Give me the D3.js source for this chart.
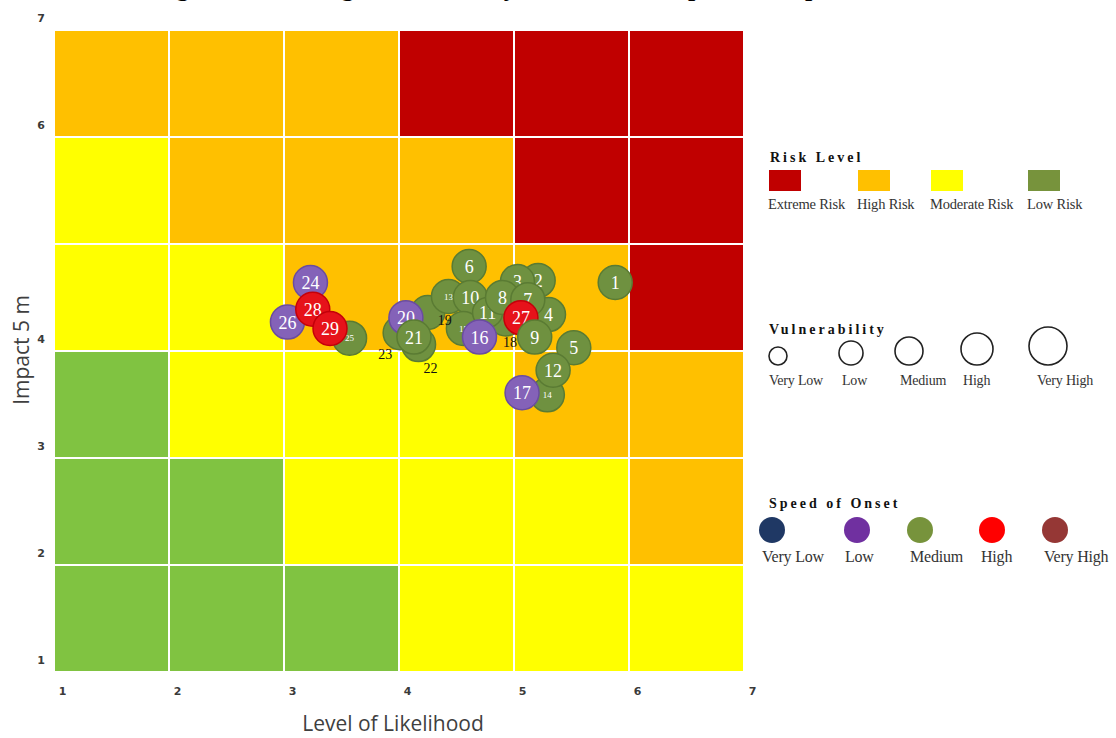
<!DOCTYPE html>
<html>
<head>
<meta charset="utf-8">
<script src="https://cdn.jsdelivr.net/npm/d3@7"></script>
<style>
  body { margin: 0; background: #fff; }
  svg { display: block; }
</style>
</head>
<body>
<svg id="drawing_region"></svg>
<script>
// risk grid, rows from top (impact 6-7) down to bottom (impact 1-2), columns likelihood 1-2 .. 6-7
const riskGrid = [
    ['High', 'High', 'High', 'Extreme', 'Extreme', 'Extreme'],
    ['Moderate', 'High', 'High', 'High', 'Extreme', 'Extreme'],
    ['Moderate', 'Moderate', 'High', 'High', 'High', 'Extreme'],
    ['Low', 'Moderate', 'Moderate', 'Moderate', 'High', 'High'],
    ['Low', 'Low', 'Moderate', 'Moderate', 'Moderate', 'High'],
    ['Low', 'Low', 'Low', 'Moderate', 'Moderate', 'Moderate']
];
const riskLevels = ['Extreme', 'High', 'Moderate', 'Low'];
const riskLabels = ['Extreme Risk', 'High Risk', 'Moderate Risk', 'Low Risk'];

const xTicks = [1, 2, 3, 4, 5, 6, 7];
const yTicks = [1, 2, 3, 4, 6, 7];

const vulnerabilityLevels = ['Very Low', 'Low', 'Medium', 'High', 'Very High'];
const onsetLevels = ['Very Low', 'Low', 'Medium', 'High', 'Very High'];

// hazards, in drawing order
const hazardIds    = [25, 24, 26, 28, 29, 23, 19, 22, 20, 21, 13, 6, 18, 2, 3, 10, 15, 11, 8, 4, 7, 27, 9, 16, 1, 5, 14, 12, 17];
const likelihood   = [3.57, 3.23, 3.03, 3.25, 3.40, 4.01, 4.25, 4.17, 4.06, 4.13, 4.43, 4.61, 4.93, 5.21, 5.03, 4.62, 4.56, 4.77, 4.90, 5.30, 5.12, 5.06, 5.18, 4.70, 5.88, 5.52, 5.29, 5.34, 5.07];
const impact       = [4.12, 4.64, 4.27, 4.39, 4.21, 4.17, 4.36, 4.06, 4.31, 4.13, 4.51, 4.79, 4.30, 4.66, 4.65, 4.50, 4.21, 4.36, 4.50, 4.34, 4.48, 4.31, 4.13, 4.13, 4.64, 4.03, 3.59, 3.82, 3.61];
const onset        = ['Medium', 'Low', 'Low', 'High', 'High', 'Medium', 'Medium', 'Medium', 'Low', 'Medium', 'Medium', 'Medium', 'Medium', 'Medium', 'Medium', 'Medium', 'Medium', 'Medium', 'Medium', 'Medium', 'Medium', 'High', 'Medium', 'Low', 'Medium', 'Medium', 'Medium', 'Medium', 'Low'];
const vulnerability = ['High', 'High', 'High', 'High', 'High', 'High', 'High', 'High', 'High', 'High', 'High', 'High', 'High', 'High', 'High', 'High', 'High', 'Medium', 'High', 'High', 'High', 'High', 'High', 'High', 'High', 'High', 'High', 'High', 'High'];

const riskColor = d3.scaleOrdinal()
    .domain(riskLevels)
    .range(['#c00000', '#ffc000', '#ffff00', '#80c341']);
const riskLegendColor = d3.scaleOrdinal()
    .domain(riskLevels)
    .range(['#c00000', '#ffc000', '#ffff00', '#77933c']);
const onsetColor = d3.scaleOrdinal()
    .domain(onsetLevels)
    .range(['#1f3864', '#7030a0', '#77933c', '#ff0000', '#953735']);
const pointFill = d3.scaleOrdinal()
    .domain(onsetLevels)
    .range(['#1f3864', '#8462b8', '#6f9140', '#e6121a', '#953735']);
const pointStroke = d3.scaleOrdinal()
    .domain(onsetLevels)
    .range(['#12254a', '#6a4ca0', '#5a7b33', '#c4000a', '#7a2826']);
const legendRadius = d3.scaleOrdinal()
    .domain(vulnerabilityLevels)
    .range([9, 12, 14, 16, 19]);
const pointRadius = d3.scaleOrdinal()
    .domain(vulnerabilityLevels)
    .range([12, 14, 15, 17, 19]);

const width = 1116, height = 738;
const svg = d3.select('#drawing_region')
    .attr('width', width)
    .attr('height', height);

const xscale = d3.scaleLinear().domain([1, 7]).range([54, 744]);
const yscale = d3.scaleLinear().domain([1, 7]).range([672, 30]);

// title, cut off at the top of the picture as in the source image
svg.append('text')
    .attr('x', 555)
    .attr('y', -4)
    .attr('text-anchor', 'middle')
    .attr('font-family', 'Liberation Serif, serif')
    .attr('font-weight', 'bold')
    .attr('font-size', 26)
    .text('Figure 6. Ranking of Hazards by Likelihood, Impact and Speed of Onset');

// grid cells
const cells = [];
riskGrid.forEach((row, r) => {
    row.forEach((level, c) => {
        cells.push({ x0: c + 1, x1: c + 2, y0: 6 - r, y1: 7 - r, level: level });
    });
});

svg.append('g')
    .selectAll('rect')
    .data(cells)
    .join('rect')
    .attr('x', d => xscale(d.x0) + 1)
    .attr('y', d => yscale(d.y1) + 1)
    .attr('width', d => xscale(d.x1) - xscale(d.x0) - 2)
    .attr('height', d => yscale(d.y0) - yscale(d.y1) - 2)
    .attr('fill', d => riskColor(d.level));

// axes
const xaxis = d3.axisBottom(xscale).tickValues(xTicks).tickSize(0).tickFormat(d3.format('d'));
const yaxis = d3.axisLeft(yscale).tickValues(yTicks).tickSize(0).tickFormat(d3.format('d'));

const xg = svg.append('g')
    .attr('transform', `translate(8, ${yscale(1) + 12})`)
    .call(xaxis);
const yg = svg.append('g')
    .attr('transform', `translate(${xscale(1) - 6}, -12)`)
    .call(yaxis);
[xg, yg].forEach(g => {
    g.select('.domain').remove();
    g.selectAll('text')
        .attr('font-family', 'DejaVu Sans, sans-serif')
        .attr('font-weight', 'bold')
        .attr('font-size', 11)
        .attr('fill', '#3a3a3a');
});

svg.append('text')
    .attr('x', 393)
    .attr('y', 731)
    .attr('text-anchor', 'middle')
    .attr('font-family', 'Open Sans, sans-serif')
    .attr('font-size', 21)
    .attr('fill', '#3f3f3f')
    .text('Level of Likelihood');

svg.append('text')
    .attr('transform', 'translate(29, 350) rotate(-90)')
    .attr('text-anchor', 'middle')
    .attr('font-family', 'Open Sans, sans-serif')
    .attr('font-size', 21)
    .attr('fill', '#3f3f3f')
    .text('Impact 5 m');

// hazards
const hazards = hazardIds.map((id, i) => ({
    id: id, x: likelihood[i], y: impact[i], onset: onset[i], vul: vulnerability[i]
}));
const smallLabels = [13, 14, 15, 25];
const outsideLabels = { 18: [4, 23], 19: [17, 8], 22: [12, 24], 23: [-15, 21] };

const pts = svg.append('g')
    .selectAll('g')
    .data(hazards)
    .join('g')
    .attr('transform', d => `translate(${xscale(d.x)}, ${yscale(d.y)})`);

pts.append('circle')
    .attr('r', d => pointRadius(d.vul))
    .attr('fill', d => pointFill(d.onset))
    .attr('stroke', d => pointStroke(d.onset))
    .attr('stroke-width', 1.5);

pts.filter(d => !outsideLabels[d.id])
    .append('text')
    .attr('text-anchor', 'middle')
    .attr('dy', '0.36em')
    .attr('font-family', 'Liberation Serif, serif')
    .attr('font-size', d => smallLabels.includes(d.id) ? 9 : 18)
    .attr('fill', '#fff')
    .text(d => d.id);

svg.append('g')
    .selectAll('text')
    .data(hazards.filter(d => outsideLabels[d.id]))
    .join('text')
    .attr('x', d => xscale(d.x) + outsideLabels[d.id][0])
    .attr('y', d => yscale(d.y) + outsideLabels[d.id][1])
    .attr('text-anchor', 'middle')
    .attr('dy', '0.35em')
    .attr('font-family', 'Liberation Serif, serif')
    .attr('font-size', 14)
    .attr('fill', '#111')
    .text(d => d.id);

// legends
const titleStyle = sel => sel
    .attr('font-family', 'Liberation Serif, serif')
    .attr('font-weight', 'bold')
    .attr('font-size', 14)
    .attr('letter-spacing', 3)
    .attr('fill', '#111');
const labelStyle = (sel, size) => sel
    .attr('font-family', 'Liberation Serif, serif')
    .attr('font-size', size)
    .attr('letter-spacing', -0.2)
    .attr('fill', '#333');

// risk level
const riskX = [769, 858, 931, 1028];
svg.append('text').attr('x', 770).attr('y', 162).call(titleStyle).text('Risk Level');
svg.append('g').selectAll('rect')
    .data(riskLevels)
    .join('rect')
    .attr('x', (d, i) => riskX[i])
    .attr('y', 170)
    .attr('width', 32)
    .attr('height', 21)
    .attr('fill', d => riskLegendColor(d));
svg.append('g').selectAll('text')
    .data(riskLabels)
    .join('text')
    .attr('x', (d, i) => riskX[i] - 1)
    .attr('y', 209)
    .call(labelStyle, 14.5)
    .text(d => d);

// vulnerability
const vulCx = [778, 851, 909, 977, 1048];
const vulLx = [769, 842, 900, 963, 1037];
svg.append('text').attr('x', 769).attr('y', 334).call(titleStyle).text('Vulnerability');
svg.append('g').selectAll('circle')
    .data(vulnerabilityLevels)
    .join('circle')
    .attr('cx', (d, i) => vulCx[i])
    .attr('cy', d => 365 - legendRadius(d))
    .attr('r', d => legendRadius(d))
    .attr('fill', 'none')
    .attr('stroke', '#222')
    .attr('stroke-width', 1.6);
svg.append('g').selectAll('text')
    .data(vulnerabilityLevels)
    .join('text')
    .attr('x', (d, i) => vulLx[i])
    .attr('y', 385)
    .call(labelStyle, 14)
    .text(d => d);

// speed of onset
const onsetCx = [772, 857, 920, 992, 1055];
const onsetLx = [762, 845, 910, 981, 1044];
svg.append('text').attr('x', 769).attr('y', 508).call(titleStyle).text('Speed of Onset');
svg.append('g').selectAll('circle')
    .data(onsetLevels)
    .join('circle')
    .attr('cx', (d, i) => onsetCx[i])
    .attr('cy', 530)
    .attr('r', 13)
    .attr('fill', d => onsetColor(d));
svg.append('g').selectAll('text')
    .data(onsetLevels)
    .join('text')
    .attr('x', (d, i) => onsetLx[i])
    .attr('y', 562)
    .call(labelStyle, 16)
    .text(d => d);
</script>
</body>
</html>
